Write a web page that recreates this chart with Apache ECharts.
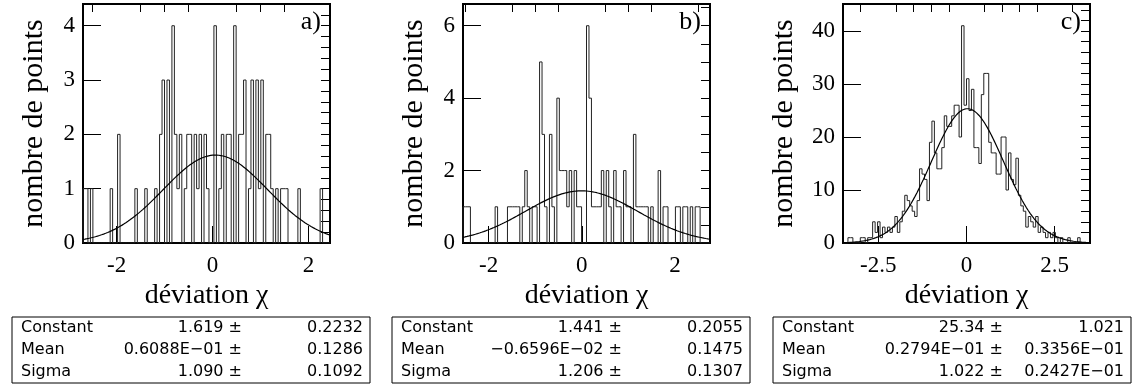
<!DOCTYPE html>
<html><head><meta charset="utf-8">
<script src="https://cdn.jsdelivr.net/npm/echarts@6/dist/echarts.min.js"></script>
<style>html,body{margin:0;padding:0;background:#fff}#c{width:1133px;height:389px}</style>
</head><body><div id="c"></div><script>
// ---------- data ----------
const rangeA = [-2.7, 2.45];
const countsA = [1,1,0,1,0,0,0,0,0,0, 0,1,0,0,2,0,0,0,0,0, 0,1,0,0,0,1,0,0,0,1,
  0,2,3,0,3,0,4,2,1,2, 0,1,2,2,0,2,1,2,0,2, 1,0,0,4,0,1,2,0,2,2,
  0,4,0,2,2,3,0,1,3,0, 3,1,3,0,2,2,1,0,1,0, 1,1,1,0,0,0,0,1,0,0,
  0,0,0,0,0,0,1,0,0,0];
const rangeB = [-2.55, 2.75];
const countsB = [1,1,1,0,0,0,0,0,0,0, 0,0,0,1,0,0,0,0,1,1, 1,1,1,0,1,2,1,0,1,1,
  0,5,3,1,0,3,1,0,4,2, 2,2,1,2,0,2,1,1,0,0, 6,4,1,1,1,1,2,0,2,1,
  0,2,1,1,0,2,1,1,0,3, 1,1,1,1,1,0,1,0,0,2, 0,1,1,0,0,0,1,1,0,1, 1,0,1,0,1,1,0,0,0,0];
const rangeC = [-3.5, 3.5];
const countsC = [0,0,1,1,0,0,0,1,1,0, 1,1,4,2,4,1,3,2,3,2, 3,5,2,4,6,9,8,7,6,5,
  8,14,13,12,8,19,23,17,14,14, 18,24,22,22,24,26,26,20,41,26, 31,25,29,18,18,15,28,32,32,19,
  17,17,13,13,20,20,10,17,12,11, 16,9,7,6,3,5,4,3,5,2, 3,2,1,2,1,2,1,0,1,0, 0,1,0,0,0,1,0,0,0,0];
const fitA = [1.619, 0.06088, 1.090];
const fitB = [1.441, -0.006596, 1.206];
const fitC = [25.34, 0.02794, 1.022];
const yMax = [4.4, 6.6, 45.1];
const xMajorA = [-2, 0, 2], xMajorB = [-2, 0, 2], xMajorC = [-2.5, 0, 2.5];
const xMinorA = [-2.5,-1.5,-1,-0.5,0.5,1,1.5];
const xMinorB = [-2.5,-1.5,-1,-0.5,0.5,1,1.5,2.5];
const xMinorC = [-3,-2,-1.5,-1,-0.5,0.5,1,1.5,2,3];
const yMajorA = [0,1,2,3,4], yMajorB = [0,2,4,6], yMajorC = [0,10,20,30,40];
const yMinorStep = [0.2, 0.5, 2];
const panelLetters = ['a)', 'b)', 'c)'];
const xTitle = 'déviation χ';
const yTitle = 'nombre de points';
const statNames = ['Constant', 'Mean', 'Sigma'];
const statValsA = ['1.619 ±', '0.6088E−01 ±', '1.090 ±'];
const statErrsA = ['0.2232', '0.1286', '0.1092'];
const statValsB = ['1.441 ±', '−0.6596E−02 ±', '1.206 ±'];
const statErrsB = ['0.2055', '0.1475', '0.1307'];
const statValsC = ['25.34 ±', '0.2794E−01 ±', '1.022 ±'];
const statErrsC = ['1.021', '0.3356E−01', '0.2427E−01'];

// ---------- build ----------
function histPoints(counts, range) {
  const w = (range[1] - range[0]) / counts.length;
  const pts = [[range[0], 0]];
  counts.forEach((c, i) => pts.push([range[0] + i * w, c]));
  pts.push([range[1], counts[counts.length - 1]]);
  pts.push([range[1], 0]);
  return pts;
}
function gaussPoints(fit, range) {
  const pts = [], n = 240;
  for (let i = 0; i <= n; i++) {
    const x = range[0] + (range[1] - range[0]) * i / n;
    pts.push([x, fit[0] * Math.exp(-0.5 * Math.pow((x - fit[1]) / fit[2], 2))]);
  }
  return pts;
}
function stepList(max, step) {
  const a = [];
  for (let k = 0; k * step <= max + 1e-9; k++) a.push(+(k * step).toFixed(4));
  return a;
}
const panels = [
  {range: rangeA, counts: countsA, fit: fitA, xMaj: xMajorA, xMin: xMinorA, yMaj: yMajorA, vals: statValsA, errs: statErrsA},
  {range: rangeB, counts: countsB, fit: fitB, xMaj: xMajorB, xMin: xMinorB, yMaj: yMajorB, vals: statValsB, errs: statErrsB},
  {range: rangeC, counts: countsC, fit: fitC, xMaj: xMajorC, xMin: xMinorC, yMaj: yMajorC, vals: statValsC, errs: statErrsC}
];
const gridLeft = [83, 463, 843], gridW = 247, gridTop = 4, gridH = 239;
const boxLeft = [12, 392, 773], boxW = 358, boxTop = 317, boxH = 66;
const serif = 'Liberation Serif';
const grids = [], xAxes = [], yAxes = [], series = [], graphic = [];
panels.forEach((p, i) => {
  grids.push({left: gridLeft[i], top: gridTop, width: gridW, height: gridH, show: true,
    borderColor: '#000', borderWidth: 2, backgroundColor: 'transparent'});
  xAxes.push({type: 'value', gridIndex: i, min: p.range[0], max: p.range[1],
    axisLine: {show: false, onZero: false}, splitLine: {show: false},
    axisTick: {inside: true, length: 17, customValues: p.xMaj, lineStyle: {color: '#000', width: 1}},
    axisLabel: {customValues: p.xMaj, color: '#000', fontFamily: serif, fontSize: 23, margin: 11},
    name: xTitle, nameLocation: 'middle', nameGap: 39,
    nameTextStyle: {color: '#000', fontFamily: serif, fontSize: 28}});
  xAxes.push({type: 'value', gridIndex: i, min: p.range[0], max: p.range[1],
    axisLine: {show: false, onZero: false}, splitLine: {show: false}, axisLabel: {show: false},
    axisTick: {inside: true, length: 8, customValues: p.xMin, lineStyle: {color: '#000', width: 1}}});
  yAxes.push({type: 'value', gridIndex: i, min: 0, max: yMax[i],
    axisLine: {show: false, onZero: false}, splitLine: {show: false},
    axisTick: {inside: true, length: 18, customValues: p.yMaj, lineStyle: {color: '#000', width: 1}},
    axisLabel: {customValues: p.yMaj, color: '#000', fontFamily: serif, fontSize: 23, margin: 8},
    name: yTitle, nameLocation: 'middle', nameRotate: 90, nameGap: i === 2 ? 44 : 34,
    nameTextStyle: {color: '#000', fontFamily: serif, fontSize: 30}});
  yAxes.push({type: 'value', gridIndex: i, min: 0, max: yMax[i],
    axisLine: {show: false, onZero: false}, splitLine: {show: false}, axisLabel: {show: false},
    axisTick: {inside: true, length: 9, customValues: stepList(yMax[i], yMinorStep[i]), lineStyle: {color: '#000', width: 1}}});
  series.push({type: 'line', xAxisIndex: 2 * i, yAxisIndex: 2 * i, step: 'end', symbol: 'none',
    data: histPoints(p.counts, p.range), lineStyle: {color: '#222', width: 1}, silent: true});
  series.push({type: 'line', xAxisIndex: 2 * i, yAxisIndex: 2 * i, symbol: 'none', smooth: false,
    data: gaussPoints(p.fit, p.range), lineStyle: {color: '#000', width: 1.2}, silent: true});
  graphic.push({type: 'text', x: gridLeft[i] + gridW - 9, y: gridTop + 5,
    style: {text: panelLetters[i], fill: '#000', font: '26px "Liberation Serif"', textAlign: 'right', textVerticalAlign: 'top'}});
  graphic.push({type: 'rect', shape: {x: boxLeft[i], y: boxTop, width: boxW, height: boxH},
    style: {fill: 'none', stroke: '#000', lineWidth: 1}});
  statNames.forEach((nm, r) => {
    const y = boxTop + 11 + r * 22;
    graphic.push({type: 'text', x: boxLeft[i] + 9, y: y,
      style: {text: nm, fill: '#000', font: '16px "DejaVu Sans"', textVerticalAlign: 'middle'}});
    graphic.push({type: 'text', x: boxLeft[i] + 230, y: y,
      style: {text: p.vals[r], fill: '#000', font: '16px "DejaVu Sans"', textAlign: 'right', textVerticalAlign: 'middle'}});
    graphic.push({type: 'text', x: boxLeft[i] + boxW - 7, y: y,
      style: {text: p.errs[r], fill: '#000', font: '16px "DejaVu Sans"', textAlign: 'right', textVerticalAlign: 'middle'}});
  });
});
const chart = echarts.init(document.getElementById('c'), null, {renderer: 'canvas'});
chart.setOption({animation: false, backgroundColor: '#fff', grid: grids, xAxis: xAxes, yAxis: yAxes, series: series, graphic: graphic});
</script></body></html>
